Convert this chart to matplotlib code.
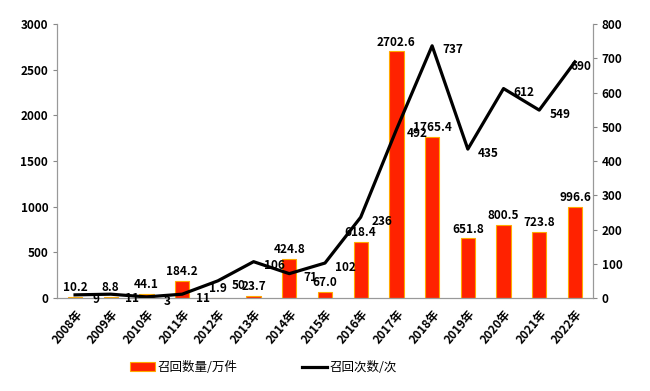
import matplotlib.pyplot as plt
import numpy as np

plt.rcParams["font.family"] = ["Noto Sans CJK SC", "DejaVu Sans"]

years = ["2008年", "2009年", "2010年", "2011年", "2012年", "2013年", "2014年", "2015年",
         "2016年", "2017年", "2018年", "2019年", "2020年", "2021年", "2022年"]
qty = [10.2, 8.8, 44.1, 184.2, 1.9, 23.7, 424.8, 67.0,
       618.4, 2702.6, 1765.4, 651.8, 800.5, 723.8, 996.6]
times = [9, 11, 3, 11, 50, 106, 71, 102, 236, 492, 737, 435, 612, 549, 690]

x = np.arange(len(years))

fig, ax = plt.subplots(figsize=(6.5, 3.91), dpi=100)
fig.subplots_adjust(left=0.088, right=0.912, top=0.938, bottom=0.238)
ax2 = ax.twinx()

bars = ax.bar(x, qty, width=0.4, color="#ff2200", edgecolor="#ffaa00", linewidth=0.8,
              label="召回数量/万件")
ax.bar_label(bars, labels=[f"{v:.1f}" for v in qty], padding=2,
             fontsize=8.5, fontweight="bold")

line, = ax2.plot(x, times, color="black", lw=2.3, label="召回次数/次")
for xi, v in zip(x, times):
    dx = 15 if v != 690 else 4
    ax2.annotate(str(v), (xi, v), xytext=(dx, -3), textcoords="offset points",
                 ha="center", va="center", fontsize=8.5, fontweight="bold")

ax.set_xlim(-0.5, len(years) - 0.5)
ax.set_ylim(0, 3000)
ax.set_yticks(range(0, 3001, 500))
ax2.set_ylim(0, 800)
ax2.set_yticks(range(0, 801, 100))

ax.set_xticks(x)
ax.set_xticklabels(years, rotation=50, ha="right", rotation_mode="anchor",
                   fontsize=8.5, fontweight="bold")
for a in (ax, ax2):
    a.tick_params(axis="y", labelsize=8.5, length=3, color="#888888")
    for lbl in a.get_yticklabels():
        lbl.set_fontweight("bold")
    a.spines["top"].set_visible(False)
    for s in ("left", "right", "bottom"):
        a.spines[s].set_color("#999999")
ax.tick_params(axis="x", length=0, pad=7)

fig.legend([bars, line], ["召回数量/万件", "召回次数/次"], loc="lower center",
           bbox_to_anchor=(0.405, 0.015), ncol=2, frameon=False, fontsize=9,
           columnspacing=5.2, handlelength=2.0, handletextpad=0.2)

fig.savefig("out.png", dpi=100)
